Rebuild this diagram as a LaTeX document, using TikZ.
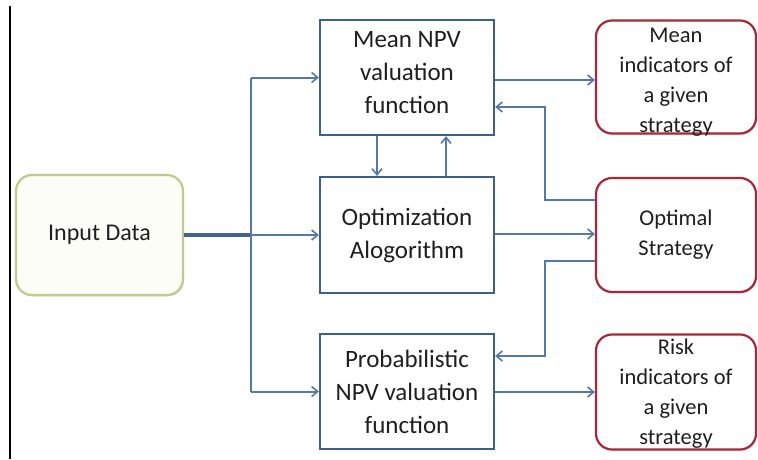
\documentclass[tikz,border=0pt]{standalone}
\usepackage{fontspec}
\setmainfont{Carlito}
\usetikzlibrary{arrows.meta,shadows}
\definecolor{boxblue}{HTML}{3D5F8C}
\definecolor{linkblue}{HTML}{5578A8}
\definecolor{boxred}{HTML}{A8283A}
\definecolor{boxgreen}{HTML}{BFCB8A}
\definecolor{creamfill}{HTML}{FDFDF7}
\tikzset{
  txt/.style={align=center, text=black!88},
  bluebox/.style={txt, font=\fontsize{25}{33}\selectfont, draw=boxblue, line width=2.2pt, fill=white, inner sep=0pt,
    minimum width=174pt, minimum height=115pt},
  redbox/.style={txt, font=\fontsize{22.5}{30}\selectfont, draw=boxred, line width=2.2pt, fill=white, rounded corners=16pt, inner sep=0pt,
    minimum width=160pt, minimum height=114pt, drop shadow={opacity=0.2, shadow xshift=1pt, shadow yshift=-1.5pt}},
  greenbox/.style={txt, font=\fontsize{24}{30}\selectfont, draw=boxgreen, line width=2.2pt, fill=creamfill, rounded corners=16pt, inner sep=0pt,
    minimum width=167pt, minimum height=120pt, drop shadow={opacity=0.25, shadow xshift=1pt, shadow yshift=-1.5pt}},
  conn/.style={draw=linkblue, line width=2pt},
  arr/.style={conn, -{Straight Barb[length=6pt,width=10pt,line width=1.6pt]}},
}
\begin{document}
\begin{tikzpicture}[x=1pt,y=-1pt]
\useasboundingbox (0,0) rectangle (758,459);
\draw[black, line width=2pt] (10,6) -- (10,459);

\node[greenbox] (in) at (99.5,235) {Input Data};
\node[bluebox] (mean) at (407,77.5) {};
\node[txt, font=\fontsize{25}{33}\selectfont] (meant) at (407,73) {Mean NPV\\valuation\\function};
\node[bluebox, minimum height=116pt] (opt) at (407,235) {Optimization\\Alogorithm};
\node[bluebox] (prob) at (407,391.5) {Probabilistic\\NPV valuation\\function};
\node[redbox, minimum height=113pt] (mi) at (676,77) {};
\node[txt, font=\fontsize{22.5}{30}\selectfont] (mit) at (676,82) {Mean\\indicators of\\a given\\strategy};
\node[redbox] (os) at (676,235) {Optimal\\Strategy};
\node[redbox, minimum height=115pt] (ri) at (676,392) {};
\node[txt, font=\fontsize{22.5}{30}\selectfont] (rit) at (676,394) {Risk\\indicators of\\a given\\strategy};

\coordinate (bt) at (251,77.5);
\coordinate (bm) at (251,235);
\coordinate (bb) at (251,391.5);

\draw[conn, line width=4.5pt, draw=boxblue!85!linkblue] (in.east) -- (bm);
\draw[conn] (bt) -- (bb);
\draw[arr] (bm) -- (opt.west);
\draw[arr] (bt) -- (mean.west);
\draw[arr] (bb) -- (prob.west);

\draw[arr] (mean.east |- 0,80) -- (mi.west |- 0,80);
\draw[arr] (opt.east |- 0,234) -- (os.west |- 0,234);
\draw[arr] (prob.east |- 0,392) -- (ri.west |- 0,392);

\coordinate (k1) at (545,200);
\coordinate (k2) at (545,107);
\draw[arr] (os.west |- k1) -- (k1) -- (k2) -- (mean.east |- k2);
\coordinate (k3) at (545,261);
\coordinate (k4) at (545,356);
\draw[arr] (os.west |- k3) -- (k3) -- (k4) -- (prob.east |- k4);

\draw[arr] (mean.south -| 377,0) -- (opt.north -| 377,0);
\draw[arr] (opt.north -| 446,0) -- (mean.south -| 446,0);
\end{tikzpicture}
\end{document}
